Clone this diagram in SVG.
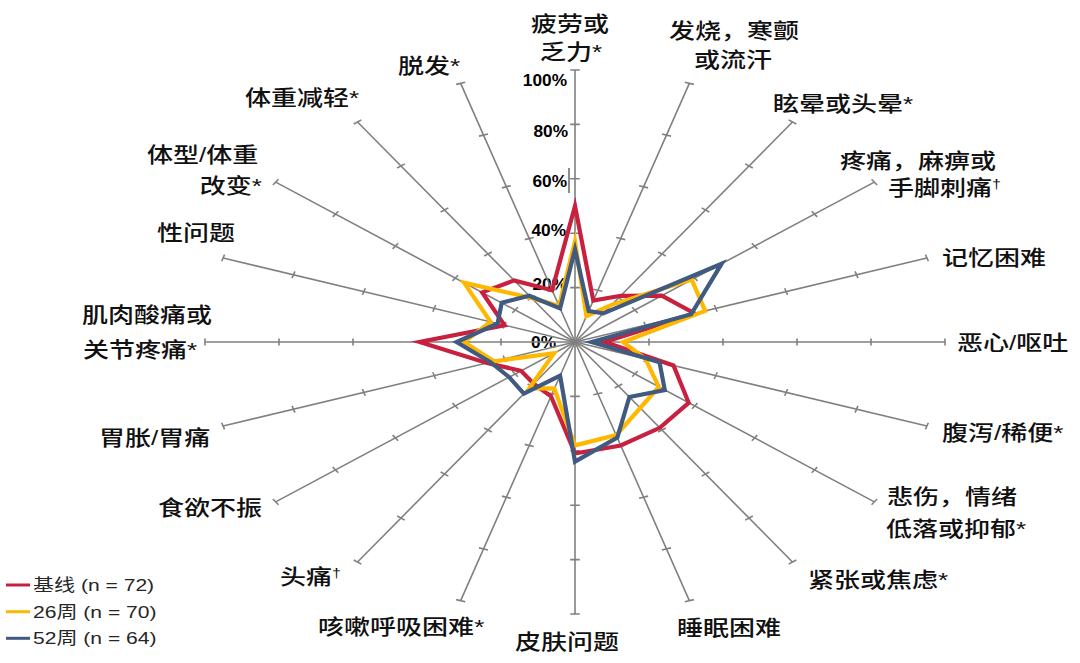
<svg xmlns="http://www.w3.org/2000/svg" width="1080" height="663" viewBox="0 0 1080 663">
<defs>
<style>
.lbl{font-family:"Liberation Sans","Noto Sans CJK SC",sans-serif;font-size:21px;font-weight:500;fill:#111111}
.mid{text-anchor:middle}
.end{text-anchor:end}
.pct{font-family:"Liberation Sans","Noto Sans CJK SC",sans-serif;font-size:16px;font-weight:bold;fill:#000000;text-anchor:end}
.leg{font-family:"Liberation Sans","Noto Sans CJK SC",sans-serif;font-size:17px;fill:#262626}
.ax{fill:none;stroke:#808080;stroke-width:1.6}
.s{fill:none;stroke-width:4.2;stroke-linejoin:miter;stroke-miterlimit:10}
.red{stroke:#C8203F}
.yel{stroke:#FFB800}
.blu{stroke:#405A80}
.dg{font-size:13px}
</style>
<path id="axis" class="ax" vector-effect="non-scaling-stroke" d="M0 0V-272M-3.5 -54.4H3.5M-3.5 -108.8H3.5M-3.5 -163.2H3.5M-3.5 -217.6H3.5M-3.5 -272H3.5"/>
</defs>
<rect width="1080" height="663" fill="#ffffff"/>

<g id="scale-labels">
<text class="pct" transform="matrix(1.08 0 0 1 567 86)">100%</text>
<text class="pct" transform="matrix(1.08 0 0 1 568 137)">80%</text>
<text class="pct" transform="matrix(1.08 0 0 1 567 187)">60%</text>
<text class="pct" transform="matrix(1.08 0 0 1 566 236)">40%</text>
<text class="pct" transform="matrix(1.08 0 0 1 567 290)">20%</text>
<text class="pct" transform="matrix(1.08 0 0 1 556 348)">0%</text>
</g>

<g id="axes" transform="translate(575 342) scale(1.3603 1)">
<use href="#axis"/>
<use href="#axis" transform="rotate(18)"/>
<use href="#axis" transform="rotate(36)"/>
<use href="#axis" transform="rotate(54)"/>
<use href="#axis" transform="rotate(72)"/>
<use href="#axis" transform="rotate(90)"/>
<use href="#axis" transform="rotate(108)"/>
<use href="#axis" transform="rotate(126)"/>
<use href="#axis" transform="rotate(144)"/>
<use href="#axis" transform="rotate(162)"/>
<use href="#axis" transform="rotate(180)"/>
<use href="#axis" transform="rotate(198)"/>
<use href="#axis" transform="rotate(216)"/>
<use href="#axis" transform="rotate(234)"/>
<use href="#axis" transform="rotate(252)"/>
<use href="#axis" transform="rotate(270)"/>
<use href="#axis" transform="rotate(288)"/>
<use href="#axis" transform="rotate(306)"/>
<use href="#axis" transform="rotate(324)"/>
<use href="#axis" transform="rotate(342)"/>
</g>
<line x1="569" y1="168" x2="569" y2="193" stroke="#666666" stroke-width="1.5"/>

<g id="series">
<polygon id="baseline" class="s red" points="575,206 593.3,300.6 620.7,295.8 661.8,295.6 694.6,313.4 604.6,342 673.5,365.5 688.7,402.8 659.8,427.8 620.7,445.5 575,453.5 551,396.3 533.7,383.8 521.1,370.8 487,363 419.6,342 504.6,325.2 482.2,292.4 514.1,280.4 552.1,290.3"/>
<polygon id="week26" class="s yel" points="575,241.4 586.4,316.1 612,304.6 691.7,279.6 705.2,310.9 623.1,342 645.4,358.8 658.8,386.8 640.2,408 616.2,435.1 575,445.4 554.4,388.6 529.3,388.2 554,353.2 494.1,361.3 464,342 490.5,321.8 464.2,282.8 531.5,298 559,305.8"/>
<polygon id="week52" class="s blu" points="575,249.5 588.7,311 603.3,313.4 721.7,263.7 691.1,314.3 591.7,342 659.5,362.2 664.8,390 629.4,397 617.3,437.7 575,461.7 560.1,375.6 523.9,393.7 509.2,377.2 490.5,362.2 456.6,342 497.6,323.5 501.7,302.8 529.3,295.8 560.1,308.4"/>
</g>

<g id="lbl-fatigue">
<text class="lbl mid" transform="matrix(1.24 0 0 1 570 31)">疲劳或</text>
<text class="lbl mid" transform="matrix(1.24 0 0 1 571 59)">乏力*</text>
</g>
<g id="lbl-fever">
<text class="lbl mid" transform="matrix(1.24 0 0 1 734 38)">发烧，寒颤</text>
<text class="lbl mid" transform="matrix(1.24 0 0 1 733 67)">或流汗</text>
</g>
<g id="lbl-dizzy"><text class="lbl" transform="matrix(1.24 0 0 1 773 111)">眩晕或头晕*</text></g>
<g id="lbl-pain">
<text class="lbl" transform="matrix(1.24 0 0 1 840 168)">疼痛，麻痹或</text>
<text class="lbl" transform="matrix(1.24 0 0 1 888 195)">手脚刺痛<tspan class="dg" dy="-7">†</tspan></text>
</g>
<g id="lbl-memory"><text class="lbl" transform="matrix(1.24 0 0 1 942 265)">记忆困难</text></g>
<g id="lbl-nausea"><text class="lbl" transform="matrix(1.24 0 0 1 957 350)">恶心/呕吐</text></g>
<g id="lbl-diarrhea"><text class="lbl" transform="matrix(1.24 0 0 1 942 440)">腹泻/稀便*</text></g>
<g id="lbl-sad">
<text class="lbl" transform="matrix(1.24 0 0 1 887 504)">悲伤，情绪</text>
<text class="lbl" transform="matrix(1.24 0 0 1 886 536)">低落或抑郁*</text>
</g>
<g id="lbl-anxiety"><text class="lbl" transform="matrix(1.24 0 0 1 808 587)">紧张或焦虑*</text></g>
<g id="lbl-sleep"><text class="lbl" transform="matrix(1.24 0 0 1 677 635)">睡眠困难</text></g>
<g id="lbl-skin"><text class="lbl" transform="matrix(1.24 0 0 1 515 649)">皮肤问题</text></g>
<g id="lbl-cough"><text class="lbl" transform="matrix(1.24 0 0 1 318 634)">咳嗽呼吸困难*</text></g>
<g id="lbl-headache"><text class="lbl" transform="matrix(1.24 0 0 1 280 584)">头痛<tspan class="dg" dy="-7">†</tspan></text></g>
<g id="lbl-appetite"><text class="lbl" transform="matrix(1.24 0 0 1 158 515)">食欲不振</text></g>
<g id="lbl-stomach"><text class="lbl" transform="matrix(1.24 0 0 1 99 445)">胃胀/胃痛</text></g>
<g id="lbl-muscle">
<text class="lbl" transform="matrix(1.24 0 0 1 82 322)">肌肉酸痛或</text>
<text class="lbl" transform="matrix(1.24 0 0 1 83 357)">关节疼痛*</text>
</g>
<g id="lbl-sex"><text class="lbl" transform="matrix(1.24 0 0 1 157 240)">性问题</text></g>
<g id="lbl-body">
<text class="lbl" transform="matrix(1.24 0 0 1 147 162)">体型/体重</text>
<text class="lbl end" transform="matrix(1.24 0 0 1 262 193)">改变*</text>
</g>
<g id="lbl-weightloss"><text class="lbl" transform="matrix(1.24 0 0 1 245 105)">体重减轻*</text></g>
<g id="lbl-hair"><text class="lbl" transform="matrix(1.24 0 0 1 398 73)">脱发*</text></g>

<g id="legend">
<line x1="6" y1="585" x2="30" y2="585" stroke="#C8203F" stroke-width="3"/>
<line x1="6" y1="611.7" x2="30" y2="611.7" stroke="#FFB800" stroke-width="3"/>
<line x1="6" y1="638.3" x2="30" y2="638.3" stroke="#405A80" stroke-width="3"/>
<text class="leg" transform="matrix(1.24 0 0 1 33 591)">基线 (n = 72)</text>
<text class="leg" transform="matrix(1.24 0 0 1 33 618)">26周 (n = 70)</text>
<text class="leg" transform="matrix(1.24 0 0 1 33 644)">52周 (n = 64)</text>
</g>
</svg>
